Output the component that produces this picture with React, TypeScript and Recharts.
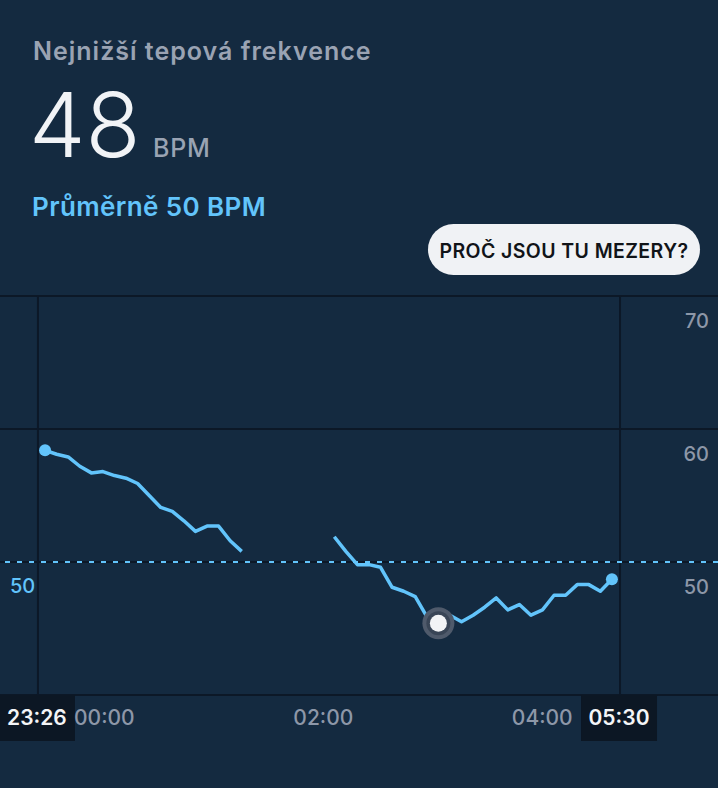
import { LineChart, Line, XAxis, YAxis, CartesianGrid, ReferenceLine } from 'recharts';

// heart rate samples (bpm), null = gap in measurement
const heartRate: Array<number | null> = [
  58.4, 58.1, 57.9, 57.2, 56.7, 56.8, 56.5, 56.3, 55.9, 55.0, 54.1, 53.8, 53.1, 52.3, 52.7, 52.7, 51.6, 50.8,
  null, null, null, null, null, null, null,
  51.9, 50.8, 49.8, 49.8, 49.6, 48.1, 47.8, 47.4, 45.9, 45.4, 46.0, 45.5, 46.0, 46.6, 47.3, 46.4, 46.8, 46.0,
  46.4, 47.5, 47.5, 48.3, 48.3, 47.8, 48.7,
];
// minutes relative to midnight
const sampleStart = -32.5;
const sampleStep = 6.34;
const timeDomain: [number, number] = [-57.2, 336.3];
const timeTicks = [0, 120, 240];
const timeLabels = ['00:00', '02:00', '04:00'];
const sleepMarkers = [
  { t: -36.4, label: '23:26' },
  { t: 282.6, label: '05:30' },
];
const bpmTicks = [40, 50, 60, 70];
const averageBpm = 50;
const lowestIndex = 34;

const BG = '#142a40';
const GRID = '#0c1827';
const BLUE = '#62c4fb';
const MUTED = '#8d97a8';

const data = heartRate.map((hr, i) => ({ t: sampleStart + i * sampleStep, hr }));

function renderDot(props: any) {
  const { cx, cy, index, value } = props;
  if (value == null || cx == null) return <g key={index} />;
  if (index === lowestIndex) {
    return (
      <g key={index}>
        <circle cx={cx} cy={cy} r={16} fill="#4f5a6b" />
        <circle cx={cx} cy={cy} r={12} fill="#394556" />
        <circle cx={cx} cy={cy} r={8.5} fill="#f2f3f5" />
      </g>
    );
  }
  if (index === 0 || index === heartRate.length - 1) {
    return <circle key={index} cx={cx} cy={cy} r={6} fill={BLUE} />;
  }
  return <g key={index} />;
}

function YTick(props: any) {
  const { y, payload } = props;
  if (payload.value === 40) return <g />;
  return (
    <text x={709} y={y + 32} textAnchor="end" fontSize={20} fontWeight={500} fill={MUTED}>
      {payload.value}
    </text>
  );
}

function XTick(props: any) {
  const { x, y, payload } = props;
  const idx = timeTicks.indexOf(payload.value);
  return (
    <text x={x} y={y + 22} textAnchor="middle" fontSize={21} fontWeight={500} fill={MUTED}>
      {timeLabels[idx]}
    </text>
  );
}

function markerLabel(text: string) {
  return (props: any) => {
    const { x, y, height } = props.viewBox;
    const bottom = y + height;
    return (
      <g>
        <rect x={x - 39} y={bottom} width={76} height={46} fill="#0c1724" />
        <text x={x - 1} y={bottom + 30} textAnchor="middle" fontSize={21} fontWeight={600} fill="#f4f5f7">
          {text}
        </text>
      </g>
    );
  };
}

function avgLabel(props: any) {
  const { x, y } = props.viewBox;
  return (
    <text x={x + 10} y={y + 31} fontSize={20} fontWeight={500} fill={BLUE}>
      {averageBpm}
    </text>
  );
}

export default function App() {
  return (
    <div style={{ position: 'relative', width: 718, height: 788, background: BG, fontFamily: 'Inter, sans-serif' }}>
      <style>{'body{margin:0}'}</style>
      <svg width={718} height={296} style={{ position: 'absolute', left: 0, top: 0 }} fontFamily="Inter, sans-serif">
        <text x={33} y={60} fontSize={25} fontWeight={600} letterSpacing={1} fill="#9aa3b3">Nejnižší tepová frekvence</text>
        <text x={29} y={157} fontSize={90} fontWeight={300} fill="#f1f3f6">48</text>
        <text x={153} y={157} fontSize={25} fontWeight={500} letterSpacing={0.8} fill="#9aa3b3">BPM</text>
        <text x={32} y={216} fontSize={26} fontWeight={600} letterSpacing={0.4} fill={BLUE}>Průměrně 50 BPM</text>
        <rect x={428} y={224} width={272} height={51} rx={25.5} fill="#f0f2f5" />
        <text x={564} y={258} textAnchor="middle" fontSize={19.5} fontWeight={600} letterSpacing={0.4} fill="#111418">
          PROČ JSOU TU MEZERY?
        </text>
      </svg>
      <div style={{ position: 'absolute', left: 0, top: 0 }}>
        <LineChart width={718} height={788} data={data} margin={{ top: 296, right: 0, bottom: 43, left: 0 }}>
          <CartesianGrid vertical={false} stroke={GRID} strokeWidth={2} />
          <XAxis
            dataKey="t"
            type="number"
            domain={timeDomain}
            ticks={timeTicks}
            height={50}
            axisLine={false}
            tickLine={false}
            tick={<XTick />}
            allowDataOverflow
          />
          <YAxis
            orientation="right"
            mirror
            domain={[40, 70]}
            ticks={bpmTicks}
            axisLine={false}
            tickLine={false}
            tick={<YTick />}
          />
          {sleepMarkers.map(m => (
            <ReferenceLine key={m.label} x={m.t} stroke={GRID} strokeWidth={2} label={markerLabel(m.label)} />
          ))}
          <ReferenceLine y={averageBpm} stroke={BLUE} strokeWidth={2} strokeDasharray="5 7" label={avgLabel} />
          <Line
            type="linear"
            dataKey="hr"
            stroke={BLUE}
            strokeWidth={3.5}
            strokeLinejoin="round"
            dot={renderDot}
            activeDot={false}
            connectNulls={false}
            isAnimationActive={false}
          />
        </LineChart>
      </div>
    </div>
  );
}
